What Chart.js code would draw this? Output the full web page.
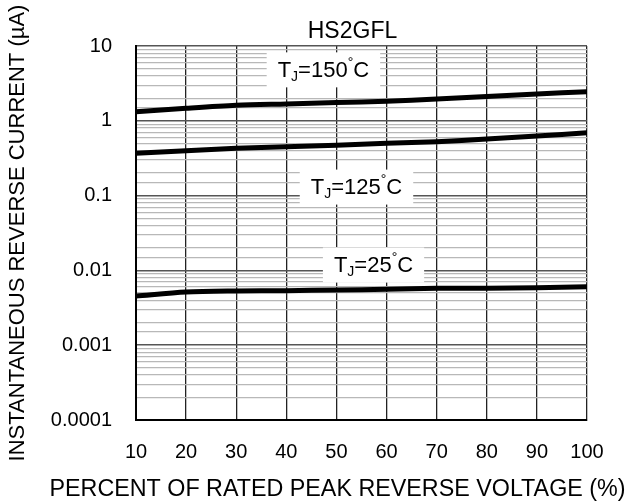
<!DOCTYPE html>
<html>
<head>
<meta charset="utf-8">
<script src="https://cdn.jsdelivr.net/npm/chart.js@4/dist/chart.umd.min.js"></script>
<style>
  html, body { margin: 0; padding: 0; background: #fff; }
  #wrap { width: 635px; height: 504px; }
</style>
</head>
<body>
<div id="wrap"><canvas id="chart" width="635" height="504"></canvas></div>
<script>
// percent of rated peak reverse voltage
const voltagePct = [10, 20, 30, 40, 50, 60, 70, 80, 90, 100];
// reverse current (uA)
const current150 = [1.32, 1.47, 1.61, 1.68, 1.75, 1.82, 1.95, 2.12, 2.28, 2.45];
const current125 = [0.368, 0.398, 0.429, 0.451, 0.470, 0.50, 0.526, 0.571, 0.626, 0.693];
const current25 = [0.00455, 0.00514, 0.00531, 0.00536, 0.00547, 0.00559, 0.00576, 0.00576, 0.00587, 0.00605];
const yTickValues = [0.0001, 0.001, 0.01, 0.1, 1, 10];

// curve labels (temperature and where the label sits, in data units)
const labelTemps = ['150', '125', '25'];
const labelAtX = [47.4, 54, 57.4];
const labelAtY = [4.8, 0.13, 0.0118];

const xTitle = 'PERCENT OF RATED PEAK REVERSE VOLTAGE (%)';
const yTitle = 'INSTANTANEOUS REVERSE CURRENT (\u00B5A)';

const FONT = "'Liberation Sans', Arial, sans-serif";

function toPoints(ys) {
    return voltagePct.map((x, i) => ({ x: x, y: ys[i] }));
}

function isDecade(v) {
    const e = Math.log10(v);
    return Math.abs(e - Math.round(e)) < 1e-6;
}

// white boxes with T_J labels, plus the chart title and x title
const labelPlugin = {
    id: 'curveLabels',
    beforeDatasetsDraw(chart) {
        const ctx = chart.ctx;
        const xs = chart.scales.x;
        const ys = chart.scales.y;
        ctx.save();
        labelTemps.forEach((t, i) => {
            const cx = xs.getPixelForValue(labelAtX[i]);
            const cy = ys.getPixelForValue(labelAtY[i]);
            const parts = [
                { s: 'T', f: '22px ' + FONT, dy: 0 },
                { s: 'J', f: '14px ' + FONT, dy: 6 },
                { s: '=' + t, f: '22px ' + FONT, dy: 0 },
                { s: '\u00B0', f: '14px ' + FONT, dy: -8 },
                { s: 'C', f: '22px ' + FONT, dy: 0 }
            ];
            let w = 0;
            parts.forEach(p => { ctx.font = p.f; p.w = ctx.measureText(p.s).width; w += p.w; });
            const boxW = w + 22;
            const boxH = 35;
            ctx.fillStyle = '#fff';
            ctx.fillRect(cx - boxW / 2, cy - boxH / 2, boxW, boxH);
            ctx.fillStyle = '#000';
            ctx.textBaseline = 'middle';
            ctx.textAlign = 'left';
            let x = cx - w / 2;
            parts.forEach(p => {
                ctx.font = p.f;
                ctx.fillText(p.s, x, cy + 1 + p.dy);
                x += p.w;
            });
        });
        ctx.restore();
    },
    afterDraw(chart) {
        const ctx = chart.ctx;
        const area = chart.chartArea;
        ctx.save();
        ctx.fillStyle = '#000';
        ctx.textAlign = 'center';
        ctx.textBaseline = 'bottom';
        ctx.font = '23px ' + FONT;
        ctx.fillText('HS2GFL', area.left + (area.right - area.left) * 0.48, area.top - 3);
        ctx.textBaseline = 'middle';
        ctx.font = '23.3px ' + FONT;
        ctx.fillText(xTitle, chart.width / 2 + 20, chart.height - 14);
        ctx.restore();
    }
};

const ctx = document.getElementById('chart').getContext('2d');

const lineStyle = {
    borderColor: '#000',
    borderWidth: 5,
    pointRadius: 0,
    tension: 0.3,
    fill: false
};

new Chart(ctx, {
    type: 'line',
    data: {
        datasets: [
            Object.assign({ label: 'TJ=150C', data: toPoints(current150) }, lineStyle),
            Object.assign({ label: 'TJ=125C', data: toPoints(current125) }, lineStyle),
            Object.assign({ label: 'TJ=25C', data: toPoints(current25) }, lineStyle)
        ]
    },
    options: {
        responsive: false,
        animation: false,
        layout: { padding: { top: 46, right: 48, left: 0, bottom: 0 } },
        plugins: {
            legend: { display: false },
            tooltip: { enabled: false }
        },
        scales: {
            x: {
                type: 'linear',
                min: 10,
                max: 100,
                afterFit: (scale) => { scale.height = 84; },
                ticks: {
                    stepSize: 10,
                    color: '#000',
                    padding: 20,
                    font: { family: FONT, size: 20 }
                },
                grid: { color: '#222', lineWidth: 1.3, drawTicks: false },
                border: { color: '#000', width: 2 },
                title: { display: false }
            },
            y: {
                type: 'logarithmic',
                min: yTickValues[0],
                max: yTickValues[yTickValues.length - 1],
                afterFit: (scale) => { scale.width = 136; },
                ticks: {
                    autoSkip: false,
                    color: '#000',
                    padding: 24,
                    font: { family: FONT, size: 20 },
                    callback: (v) => {
                        if (!isDecade(v)) return '';
                        const e = Math.round(Math.log10(v));
                        return e >= 0 ? String(Math.pow(10, e)) : Math.pow(10, e).toFixed(-e);
                    }
                },
                grid: {
                    drawTicks: false,
                    color: (c) => (c.tick && isDecade(c.tick.value)) ? '#555' : '#b8b8b8',
                    lineWidth: (c) => (c.tick && isDecade(c.tick.value)) ? 1.5 : 1.2
                },
                border: { color: '#000', width: 2 },
                title: {
                    display: true,
                    text: yTitle,
                    color: '#000',
                    font: { family: FONT, size: 22 },
                    padding: { top: 5, bottom: 0 }
                }
            }
        }
    },
    plugins: [labelPlugin]
});
</script>
</body>
</html>
